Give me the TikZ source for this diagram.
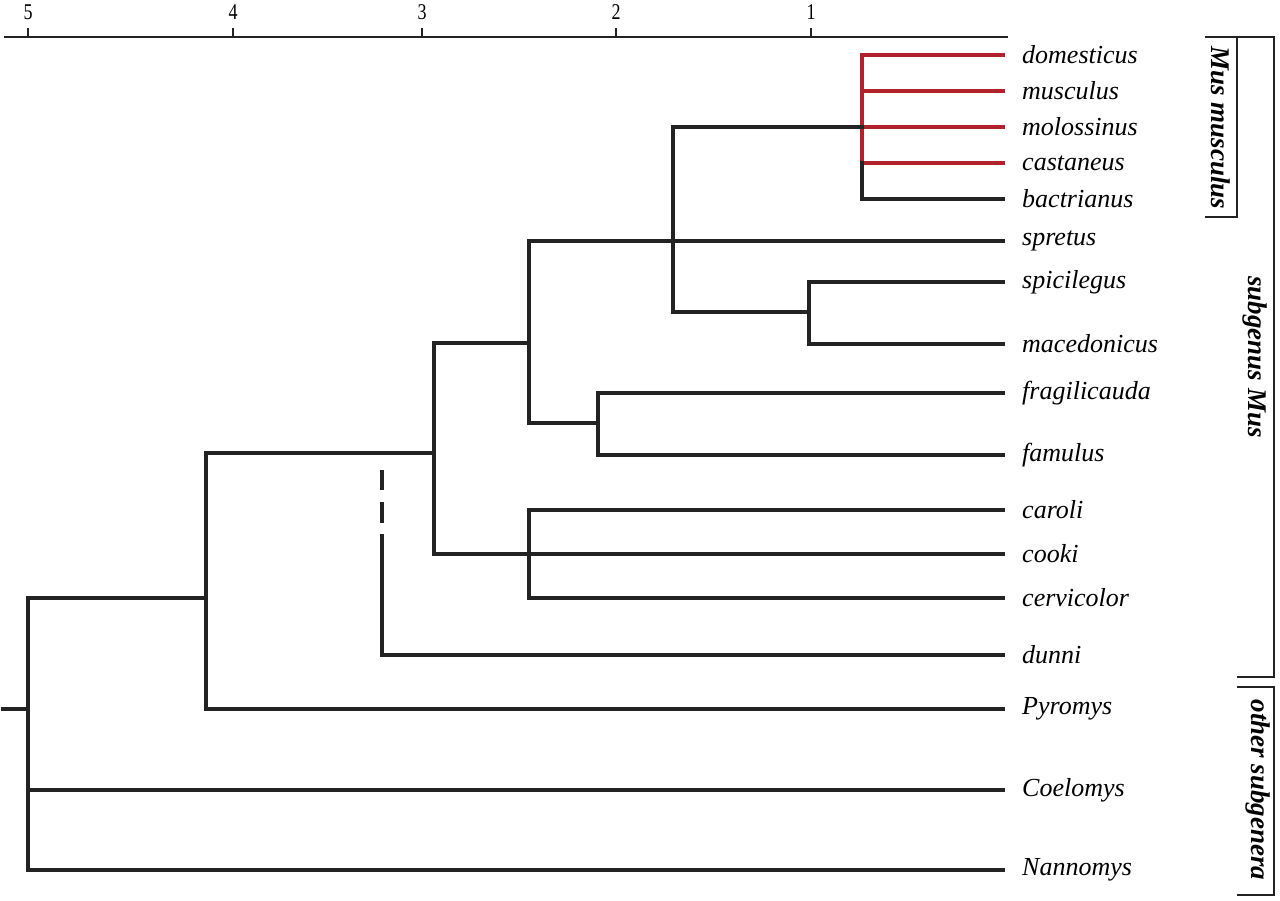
\documentclass[tikz,border=0pt]{standalone}
\usepackage{fontspec}
\setmainfont{Liberation Serif}
\definecolor{cladered}{RGB}{178,34,45}
\definecolor{ink}{RGB}{35,35,35}
\begin{document}
\begin{tikzpicture}[x=1pt,y=-1pt,
  br/.style={line width=3.3pt,draw=ink,line cap=rect},
  redbr/.style={line width=3.3pt,draw=cladered,line cap=rect},
  leaf/.style={anchor=west,inner sep=0pt,font=\fontsize{26}{30}\selectfont\itshape},
  grp/.style={inner sep=0pt,rotate=-90,font=\fontsize{27}{31}\selectfont\bfseries\itshape},
  axl/.style={inner sep=0pt,yscale=1.25,font=\fontsize{18}{22}\selectfont},
  thin/.style={line width=1.6pt,draw=ink}]
\useasboundingbox (0,0) rectangle (1280,900);
% axis
\coordinate (ax0) at (4,37);
\coordinate (ax1) at (1008,37);
\draw[thin] (ax0) -- (ax1);
\foreach \x/\l in {28/5,233/4,422/3,616/2,811/1}{
  \coordinate (t\l) at (\x,37);
  \draw[thin] (t\l) -- ++(0,-9);
  \node[axl] (lab\l) at (\x,12) {\l};
}
% leaves
\def\lx{1003}
\foreach \n/\y/\t in {dom/55/domesticus,mus/91/musculus,mol/127/molossinus,cas/163/castaneus,bac/199/bactrianus,spr/241/spretus,spi/282/spicilegus,mac/344/macedonicus,fra/393/fragilicauda,fam/455/famulus,car/510/caroli,coo/554/cooki,cer/598/cervicolor,dun/655/dunni,pyr/709/Pyromys,coe/790/Coelomys,nan/870/Nannomys}{
  \coordinate (\n) at (\lx,\y);
  \node[leaf] (L\n) at (1022,\y) {\t};
}
% internal nodes
\coordinate (root) at (28,709);
\coordinate (rootstub) at (3,709);
\coordinate (n205) at (206,598);
\coordinate (n434) at (434,453);
\coordinate (n529a) at (529,343);
\coordinate (n673) at (673,241);
\coordinate (n862) at (862,127);
\coordinate (n809) at (809,312);
\coordinate (n598) at (598,423);
\coordinate (n529b) at (529,554);
\coordinate (n382) at (382,453);
% Mus musculus (red part)
\draw[redbr] (n862 |- dom) -- (dom);
\draw[redbr] (n862 |- mus) -- (mus);
\draw[redbr] (n862 |- mol) -- (mol);
\draw[redbr] (n862 |- cas) -- (cas);
\draw[redbr] (n862 |- dom) -- (n862 |- cas);
\draw[br] (n862 |- cas) -- (n862 |- bac) -- (bac);
% n673
\draw[br] (n673 |- n862) -- (n862);
\draw[br] (n673 |- n862) -- (n673 |- n809) -- (n809);
\draw[br] (n809 |- spi) -- (spi);
\draw[br] (n809 |- spi) -- (n809 |- mac) -- (mac);
% n529a
\draw[br] (n529a |- spr) -- (spr);
\draw[br] (n529a |- spr) -- (n529a |- n598) -- (n598);
\draw[br] (n598 |- fra) -- (fra);
\draw[br] (n598 |- fra) -- (n598 |- fam) -- (fam);
% n434
\draw[br] (n434 |- n529a) -- (n529a);
\draw[br] (n434 |- n529a) -- (n434 |- coo) -- (coo);
\draw[br] (n529b |- car) -- (car);
\draw[br] (n529b |- car) -- (n529b |- cer) -- (cer);
% n205
\draw[br] (n205 |- n434) -- (n434);
\draw[br] (n205 |- n434) -- (n205 |- pyr) -- (pyr);
% dunni
\draw[br,line cap=butt] (382,470) -- (382,490);
\draw[br,line cap=butt] (382,502) -- (382,523);
\draw[br] (382,536) -- (n382 |- dun) -- (dun);
% root
\draw[br] (rootstub) -- (root);
\draw[br] (root |- n205) -- (n205);
\draw[br] (root |- n205) -- (root |- nan) -- (nan);
\draw[br] (root |- coe) -- (coe);
% brackets
\coordinate (bTop) at (1274,37);
\coordinate (bMus) at (1274,677);
\draw[thin] (1205,37) -- (bTop) -- (bMus) -- (1237,677);
\draw[thin] (1237,37) -- (1237,217) -- (1205,217);
\draw[thin] (1237,687) -- (1274,687) -- (1274,895) -- (1237,895);
\node[grp] (gmm) at (1221,128) {Mus musculus};
\node[grp] (gsm) at (1255,357) {subgenus Mus};
\node[grp] (gos) at (1258,790) {other subgenera};
\end{tikzpicture}
\end{document}
